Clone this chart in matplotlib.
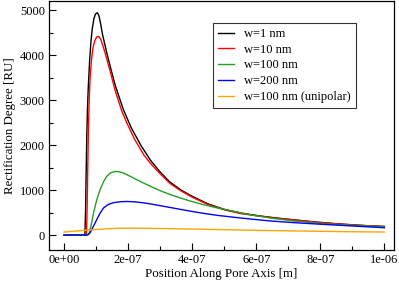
import numpy as np
import matplotlib
matplotlib.use("Agg")
import matplotlib.pyplot as plt
from matplotlib.ticker import MultipleLocator, FuncFormatter

plt.rcParams['font.family'] = ['Liberation Serif', 'DejaVu Serif']

# data (x in units of 1e-7 m)
x_w1 = [0, 0.65, 0.67, 0.69, 0.71, 0.73, 0.76, 0.80, 0.84, 0.88, 0.93, 0.98, 1.04, 1.09, 1.14, 1.20,
        1.32, 1.44, 1.60, 1.85, 2.1, 2.4, 2.7, 3.0, 3.3, 3.65, 4.0, 4.5, 5.0, 5.5, 6.1, 6.6, 7.2,
        7.8, 8.4, 9.0, 9.5, 10]
y_w1 = [0, 0, 500, 1400, 2200, 2800, 3350, 3900, 4300, 4580, 4800, 4910, 4940, 4870, 4700, 4460,
        4090, 3750, 3320, 2790, 2380, 1990, 1660, 1400, 1180, 1000, 860, 690, 570, 490, 425, 380, 335,
        292, 257, 227, 206, 191]

x_w10 = [0, 0.70, 0.72, 0.74, 0.76, 0.78, 0.81, 0.85, 0.90, 0.96, 1.02, 1.09, 1.15, 1.22, 1.30,
         1.44, 1.60, 1.80, 1.96, 2.2, 2.5, 2.7, 3.0, 3.3, 3.65, 4.0, 4.5, 5.0, 5.5, 6.1, 6.6, 7.2,
         7.8, 8.4, 9.0, 9.5, 10]
y_w10 = [0, 0, 600, 1500, 2300, 2900, 3450, 3850, 4150, 4320, 4400, 4410, 4340, 4190, 4000,
         3640, 3200, 2760, 2490, 2130, 1770, 1590, 1360, 1150, 980, 840, 675, 560, 478, 420, 375, 332,
         289, 254, 224, 204, 189]

x_w100 = [0, 0.74, 0.78, 0.84, 0.92, 1.02, 1.125, 1.23, 1.33, 1.45, 1.59, 1.72, 1.85, 2.05, 2.27,
          2.48, 2.69, 3.0, 3.31, 3.65, 3.94, 4.35, 4.77, 5.3, 5.81, 6.44, 7.17, 8.2, 9.25, 10]
y_w100 = [0, 0, 40, 200, 490, 780, 1007, 1180, 1302, 1380, 1413, 1405, 1378, 1310, 1229,
          1155, 1085, 985, 900, 818, 755, 675, 605, 525, 450, 378, 312, 246, 207, 184]

x_w200 = [0, 0.70, 0.75, 0.81, 0.90, 1.02, 1.12, 1.23, 1.38, 1.54, 1.75, 1.96, 2.2, 2.48,
          2.69, 3.0, 3.31, 3.65, 3.94, 4.35, 4.77, 5.3, 5.81, 6.44, 7.17, 8.2, 9.25, 10]
y_w200 = [0, 0, 10, 44, 170, 340, 480, 600, 680, 718, 740, 745, 738, 715,
          692, 652, 612, 568, 530, 482, 438, 395, 356, 312, 275, 232, 191, 162]

x_uni = [0, 0.5, 0.93, 1.3, 1.7, 2.0, 2.5, 3.0, 4.0, 5.0, 6.0, 7.0, 8.0, 9.0, 10]
y_uni = [66, 95, 118, 138, 150, 152, 150, 145, 132, 118, 104, 92, 82, 73, 66]

series = [
    ("w=1 nm", x_w1, y_w1, "black"),
    ("w=10 nm", x_w10, y_w10, "#ff0000"),
    ("w=100 nm", x_w100, y_w100, "#22a022"),
    ("w=200 nm", x_w200, y_w200, "#0000ff"),
    ("w=100 nm (unipolar)", x_uni, y_uni, "#ffa500"),
]

fig = plt.figure(figsize=(3.99, 2.84), dpi=100)
ax = fig.add_axes([49 / 399, 34 / 284, 345 / 399, 249 / 284])

for label, xs, ys, c in series:
    ax.plot(np.array(xs) * 1e-7, ys, color=c, lw=1.0, label=label)

ax.set_xlim(-0.47e-7, 1.03e-6)
ax.set_ylim(-333, 5200)

ax.xaxis.set_major_locator(MultipleLocator(2e-7))
ax.xaxis.set_minor_locator(MultipleLocator(1e-7))
ax.yaxis.set_major_locator(MultipleLocator(1000))
ax.yaxis.set_minor_locator(MultipleLocator(500))


def sci(v, pos):
    if abs(v) < 1e-12:
        return "0e+00"
    return "%.0e" % v


ax.xaxis.set_major_formatter(FuncFormatter(sci))

ax.tick_params(which='both', direction='in', top=False, right=False, labelsize=9, width=0.8)
ax.tick_params(which='major', length=5, pad=3)
ax.tick_params(which='minor', length=3)
for sp in ax.spines.values():
    sp.set_linewidth(0.9)

ax.set_xlabel("Position Along Pore Axis [m]", fontsize=9.3, labelpad=1)
ax.set_ylabel("Rectification Degree [RU]", fontsize=9.3, labelpad=3)

leg = ax.legend(loc='upper left', bbox_to_anchor=((213 - 49) / 345, (250 - 23) / 249),
                fontsize=9, frameon=True, fancybox=False, handlelength=1.3, handletextpad=0.8,
                borderpad=0.4, labelspacing=0.3, borderaxespad=0)
leg.get_frame().set_edgecolor('black')
leg.get_frame().set_linewidth(0.8)

fig.savefig("out.png", dpi=100)
